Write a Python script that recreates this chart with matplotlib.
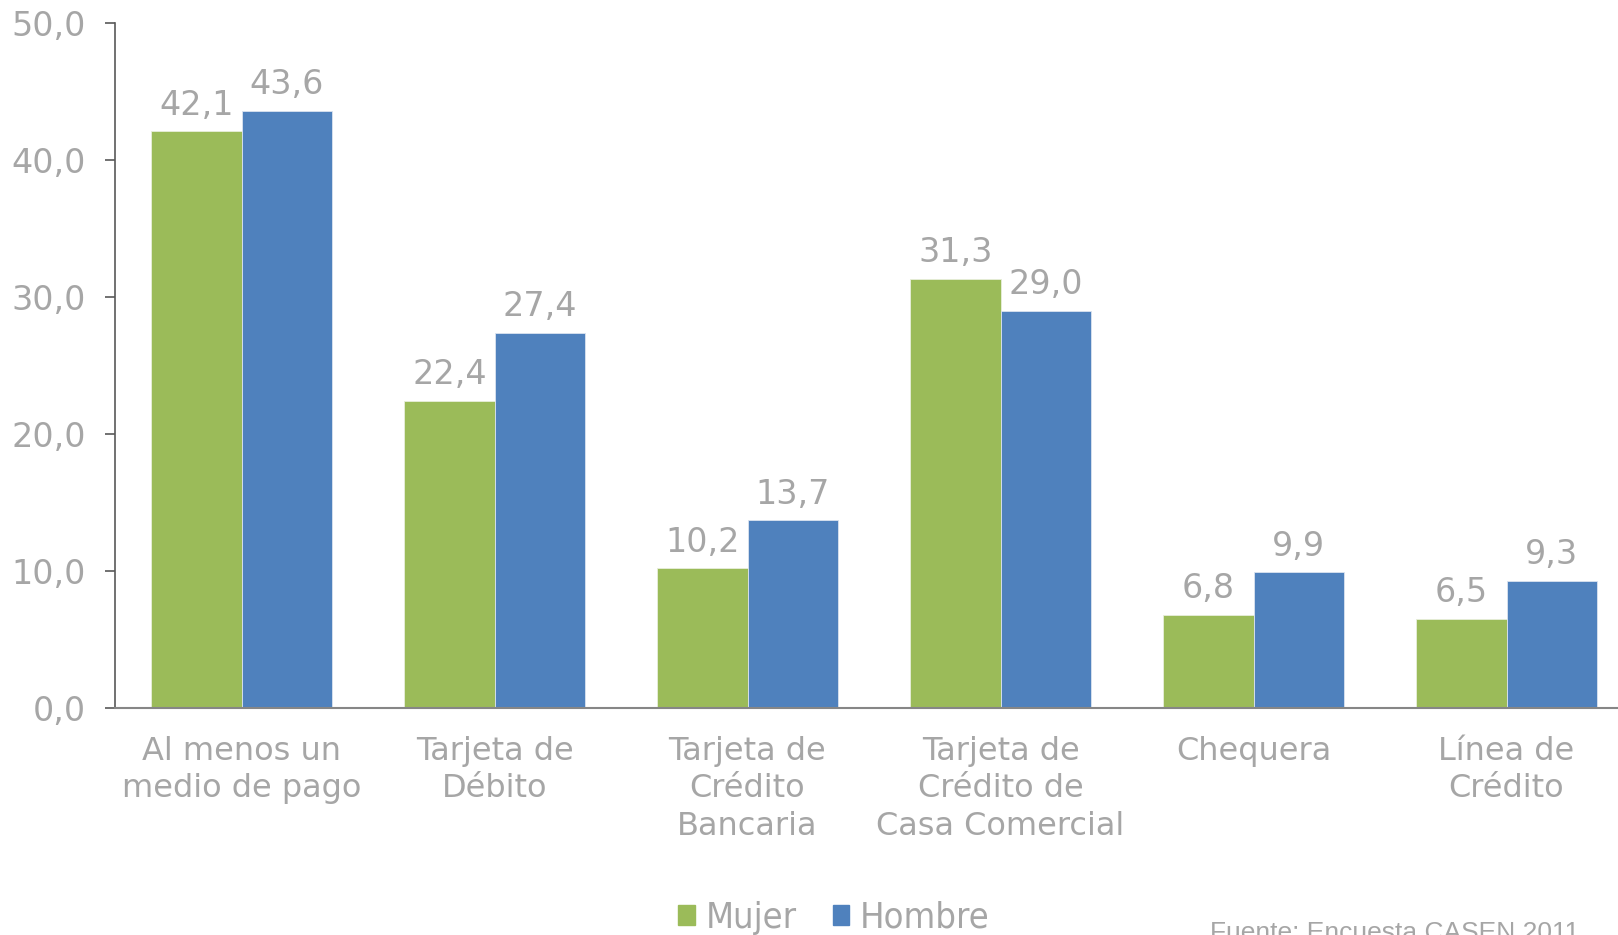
import matplotlib
matplotlib.use("Agg")
import matplotlib.pyplot as plt
import matplotlib.ticker as mticker
import numpy as np
from matplotlib.patches import Patch

CATEGORIES = [
    "Al menos un\nmedio de pago",
    "Tarjeta de\nDébito",
    "Tarjeta de\nCrédito\nBancaria",
    "Tarjeta de\nCrédito de\nCasa Comercial",
    "Chequera",
    "Línea de\nCrédito",
]
MUJER = [42.1, 22.4, 10.2, 31.3, 6.8, 6.5]
HOMBRE = [43.6, 27.4, 13.7, 29.0, 9.9, 9.3]
SERIES = ["Mujer", "Hombre"]
Y_TICKS = [0, 10, 20, 30, 40, 50]

GREEN = "#9BBB59"
BLUE = "#4F81BD"
TEXT = "#A6A6A6"

W, H = 1618, 935
fig = plt.figure(figsize=(W / 100, H / 100), dpi=100)
ax = fig.add_axes([115 / W, 227 / H, 1518 / W, 685 / H])

x = np.arange(len(CATEGORIES))
bw = 0.357
b1 = ax.bar(x - bw / 2, MUJER, bw, color=GREEN, edgecolor="#e8eedb", linewidth=0.6, zorder=2)
b2 = ax.bar(x + bw / 2, HOMBRE, bw, color=BLUE, edgecolor="#dbe4f0", linewidth=0.6, zorder=2)

for bars in (b1, b2):
    for rect in bars:
        v = rect.get_height()
        ax.annotate(f"{v:.1f}".replace(".", ","),
                    (rect.get_x() + rect.get_width() / 2, v),
                    xytext=(0, 7), textcoords="offset points",
                    ha="center", va="bottom", fontsize=24, color=TEXT)

ax.set_xlim(-0.5, len(CATEGORIES) - 0.5)
ax.set_ylim(0, 50)
ax.set_yticks(Y_TICKS)
ax.yaxis.set_major_formatter(mticker.FuncFormatter(lambda v, _: f"{v:.1f}".replace(".", ",")))
ax.set_xticks(x)
ax.set_xticklabels(CATEGORIES, linespacing=1.28)
ax.tick_params(axis="x", length=0, pad=20, labelsize=23, labelcolor=TEXT)
ax.tick_params(axis="y", length=7, width=1.2, color="#595959", pad=14, labelsize=24, labelcolor=TEXT)

for side in ("top", "right"):
    ax.spines[side].set_visible(False)
ax.spines["left"].set_color("#595959")
ax.spines["left"].set_linewidth(1.2)
ax.spines["bottom"].set_color("#868686")
ax.spines["bottom"].set_linewidth(1.5)

handles = [Patch(color=GREEN), Patch(color=BLUE)]
fig.legend(handles, SERIES, loc="center", bbox_to_anchor=(834 / W, (H - 918) / H),
           ncol=2, frameon=False, handlelength=0.45, handleheight=0.45,
           handletextpad=0.3, columnspacing=1.0, labelcolor=TEXT,
           prop={"family": ["DejaVu Sans"], "stretch": "condensed", "size": 26})

fig.text(1210 / W, (H - 921) / H, "Fuente: Encuesta CASEN 2011", ha="left", va="top",
         fontsize=19, color=TEXT, family=["Liberation Sans", "DejaVu Sans"])

fig.savefig("out.png", dpi=100)
